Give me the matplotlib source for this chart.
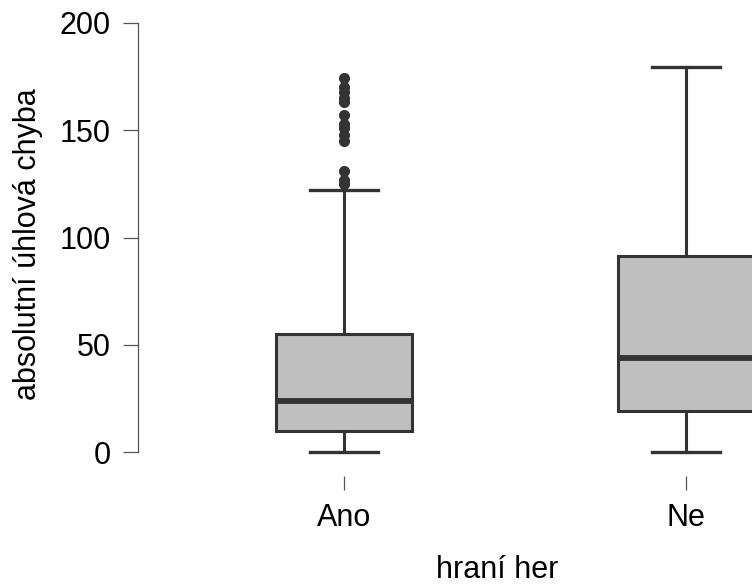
import matplotlib.pyplot as plt

plt.rcParams["font.family"] = ["Liberation Sans", "DejaVu Sans"]

# five-number summaries per group (angular error in degrees)
groups = ["Ano", "Ne"]
q1 = [10, 19.3]
median = [24, 43.8]
q3 = [55, 91.2]
whisker_lo = [0, 0]
whisker_hi = [122, 179.6]
ano_outliers = [125, 127, 131, 145, 148, 151, 153, 157, 163, 165, 168, 170, 174.5]
ne_outliers = []

stats = []
for i, name in enumerate(groups):
    stats.append({
        "label": name,
        "q1": q1[i],
        "med": median[i],
        "q3": q3[i],
        "whislo": whisker_lo[i],
        "whishi": whisker_hi[i],
        "fliers": [ano_outliers, ne_outliers][i],
    })

W, H = 752, 584
fs = 22
fig = plt.figure(figsize=(W / 100, H / 100), dpi=100)
# plot region: left edge at x=138 px, runs off the right edge
ax = fig.add_axes([138 / W, (H - 469.2) / H, (W - 138) / W, (469.2 - 5.8) / H])

dark = "#333333"
ax.bxp(stats, positions=[1, 2], widths=0.4, patch_artist=True,
       showfliers=True,
       boxprops=dict(facecolor="#bfbfbf", edgecolor=dark, linewidth=2.2),
       medianprops=dict(color=dark, linewidth=4.2, solid_capstyle="butt"),
       whiskerprops=dict(color=dark, linewidth=2.2),
       capprops=dict(color=dark, linewidth=2.4),
       flierprops=dict(marker="o", markersize=7, markerfacecolor=dark,
                       markeredgecolor=dark))

ax.set_xlim(1 - 206 / 342, 1 + 408 / 342)
ax.set_ylim(-8, 208)

for s in ["top", "right", "bottom"]:
    ax.spines[s].set_visible(False)
ax.spines["left"].set_bounds(0, 200)
ax.spines["left"].set_color("#555555")
ax.spines["left"].set_linewidth(0.9)
ax.spines["bottom"].set_position(("outward", 5))

ax.set_yticks([0, 50, 100, 150, 200])
ax.tick_params(axis="y", length=10.5, width=0.9, color="#555555",
               pad=9, labelsize=fs)
ax.set_xticks([1, 2])
ax.set_xticklabels(groups)
ax.tick_params(axis="x", length=10, width=0.9, color="#555555",
               pad=9, labelsize=fs)

fig.text(28 / W, 1 - 244 / H, "absolutní úhlová chyba", fontsize=fs,
         rotation=90, ha="center", va="center")
fig.text(497 / W, 1 - 570 / H, "hraní her", fontsize=fs,
         ha="center", va="center")

fig.savefig("out.png", dpi=100)
